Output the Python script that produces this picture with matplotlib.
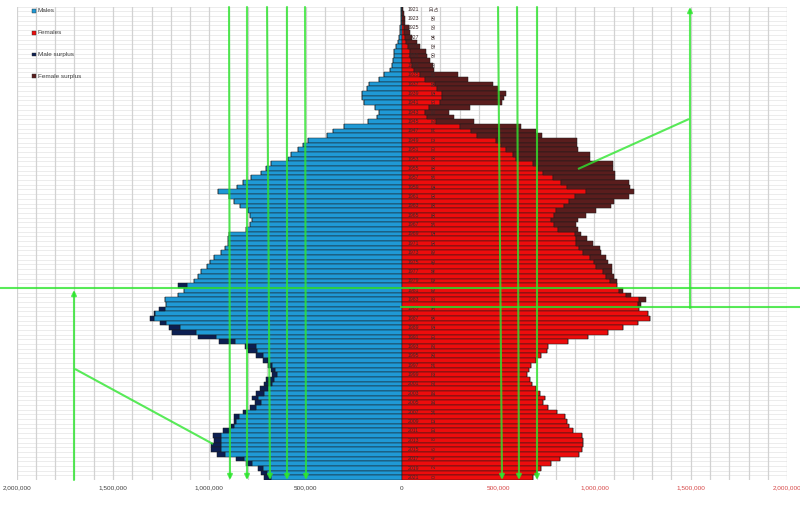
import numpy as np
import matplotlib.pyplot as plt
from matplotlib.patches import Rectangle

# birth years (top row 1921 = age 100+, bottom row 2021 = age 0)
years = np.arange(1921, 2022)
ages = 2021 - years

# population by single year of age, thousands
males = np.array([
    2, 3, 4, 6, 9, 12, 16, 22, 31, 40,
    41, 48, 52, 62, 92, 118, 170, 182, 206, 208,
    196, 140, 118, 128, 178, 303, 360, 390, 490, 516,
    542, 576, 592, 680, 706, 732, 784, 827, 857, 957,
    900, 870, 840, 800, 790, 776, 790, 810, 900, 905,
    905, 918, 940, 975, 997, 1010, 1043, 1060, 1080, 1161,
    1130, 1165, 1230, 1224, 1260, 1289, 1308, 1255, 1208, 1196,
    1057, 948, 815, 800, 758, 723, 697, 680, 677, 706,
    718, 736, 758, 780, 763, 790, 827, 870, 874, 885,
    931, 983, 978, 992, 992, 960, 862, 810, 749, 732,
    715]) * 1000
females = np.array([
    7, 10, 14, 17, 35, 42, 50, 76, 93, 125,
    133, 147, 160, 168, 289, 341, 471, 497, 543, 531,
    519, 353, 246, 272, 376, 618, 696, 730, 909, 909,
    912, 978, 978, 1094, 1094, 1106, 1106, 1180, 1184, 1206,
    1180, 1102, 1085, 1007, 955, 912, 903, 917, 929, 959,
    990, 1028, 1033, 1059, 1068, 1089, 1090, 1100, 1116, 1116,
    1150, 1190, 1267, 1241, 1230, 1280, 1288, 1226, 1150, 1070,
    965, 865, 757, 753, 720, 695, 672, 660, 649, 665,
    677, 697, 718, 745, 731, 760, 803, 847, 860, 870,
    890, 937, 939, 941, 937, 920, 820, 776, 720, 700,
    680]) * 1000

xticks = np.arange(-2000000, 2000001, 500000)
xtick_labels = ['2,000,000', '1,500,000', '1,000,000', '500,000', '0',
                '500,000', '1,000,000', '1,500,000', '2,000,000']

C_MALE = '#1f9ad6'
C_FEMALE = '#ee0c0c'
C_MSUR = '#0c1f52'
C_FSUR = '#5a1d1d'
GREEN = '#2fe62f'

plt.rcParams['font.family'] = ['Liberation Sans', 'DejaVu Sans']

core = np.minimum(males, females)
male_surplus = np.clip(males - females, 0, None)
female_surplus = np.clip(females - males, 0, None)
rows = np.arange(len(years))

fig = plt.figure(figsize=(8, 5.13), dpi=100)
ax = fig.add_axes([0.0209, 0.0643, 0.9629, 0.9226])

bar_kw = dict(height=1.0, edgecolor='#1a1a1a', linewidth=0.35, zorder=3)
ax.barh(rows, -core, color=C_MALE, **bar_kw)
ax.barh(rows, -male_surplus, left=-core, color=C_MSUR, **bar_kw)
ax.barh(rows, core, color=C_FEMALE, **bar_kw)
ax.barh(rows, female_surplus, left=core, color=C_FSUR, **bar_kw)

ax.set_xlim(-2000000, 2000000)
ax.set_ylim(len(years) - 0.5, -0.5)

# grid: every 100,000 vertically, every row horizontally
for gx in np.arange(-2000000, 2000001, 100000):
    ax.axvline(gx, color='#d2d2d2', lw=0.9, zorder=1)
for gy in np.arange(-0.5, len(years), 1.0):
    ax.axhline(gy, color='#e9e9e9', lw=0.6, zorder=0)

for s in ax.spines.values():
    s.set_visible(False)
ax.set_yticks([])
ax.set_xticks(xticks)
ax.set_xticklabels(xtick_labels)
ax.tick_params(axis='x', length=0, pad=4, labelsize=4.6, labelcolor='#404040')
for lab, val in zip(ax.get_xticklabels(), xticks):
    if val > 0:
        lab.set_color('#d64545')

# year and age labels in the middle column
for r, yr, ag in zip(rows, years, ages):
    if yr % 2 == 0:
        continue
    ax.text(62000, r, str(yr), fontsize=3.7, color='#3a2a2a',
            ha='center', va='center', zorder=5)
    txt = '10\n0+' if ag == 100 else str(ag)
    ax.text(170000, r - 0.3, txt, fontsize=3.7, color='#3a2a2a', rotation=90,
            ha='center', va='center', linespacing=1.0, zorder=5)

# overlay in pixel space: legend and green annotation marks
ov = fig.add_axes([0, 0, 1, 1], zorder=10)
ov.set_xlim(0, 800)
ov.set_ylim(513, 0)
ov.axis('off')
ov.patch.set_alpha(0)

legend_items = [('Males', C_MALE), ('Females', C_FEMALE),
                ('Male surplus', C_MSUR), ('Female surplus', C_FSUR)]
for k, (name, col) in enumerate(legend_items):
    ly = 11 + 21.7 * k
    ov.add_patch(Rectangle((31.7, ly - 1.9), 3.8, 3.8, facecolor=col,
                           edgecolor='#303030', lw=0.3))
    ov.text(37.8, ly, name, fontsize=4.6, color='#404040', va='center', ha='left')

line_kw = dict(color=GREEN, lw=1.5, alpha=0.8, solid_capstyle='butt')
arrow_kw = dict(arrowstyle='-|>', color=GREEN, lw=1.5, alpha=0.8,
                mutation_scale=7, shrinkA=0, shrinkB=0)

down_arrows = [(229, 230), (247, 247), (267, 270), (287, 287), (305, 306),
               (498, 502), (517, 519), (537, 537)]
for xt, xb in down_arrows:
    ov.annotate('', xy=(xb, 480), xytext=(xt, 7), arrowprops=arrow_kw)
ov.annotate('', xy=(74, 290), xytext=(74, 480), arrowprops=arrow_kw)
ov.annotate('', xy=(690, 7), xytext=(690, 308), arrowprops=arrow_kw)

ov.plot([0, 800], [288, 288], **line_kw)
ov.plot([400, 800], [307, 307], **line_kw)
ov.plot([75, 213], [369, 444], **line_kw)
ov.plot([689, 578], [119, 169], **line_kw)

fig.savefig('out.png', dpi=100)
